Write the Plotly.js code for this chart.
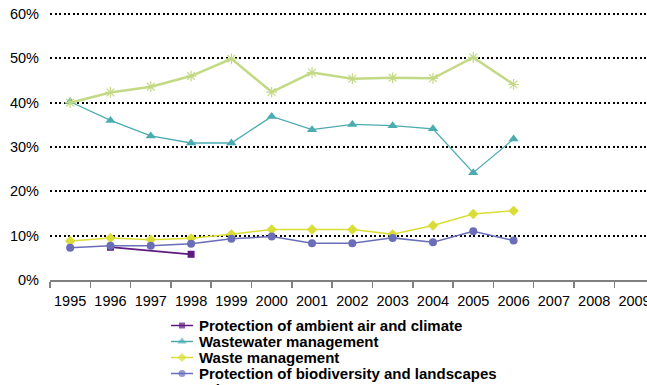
<!DOCTYPE html>
<html>
<head>
<meta charset="utf-8">
<script src="https://cdn.plot.ly/plotly-3.0.1.min.js"></script>
<style>html,body{margin:0;padding:0;background:#fff;}#chart{width:647px;height:385px;}</style>
</head>
<body>
<div id="chart"></div>
<script>
// ---- data ----
const years = ["1995","1996","1997","1998","1999","2000","2001","2002","2003","2004","2005","2006","2007","2008","2009"];
const seriesNames = ["Protection of ambient air and climate","Wastewater management","Waste management","Protection of biodiversity and landscapes","Other"];
const airClimate   = [null, 7.4, null, 5.8, null, null, null, null, null, null, null, null];
const wastewater   = [40.2, 36.0, 32.5, 30.9, 30.9, 36.9, 33.9, 35.1, 34.8, 34.1, 24.2, 31.8];
const waste        = [8.8, 9.5, 9.1, 9.4, 10.3, 11.4, 11.4, 11.4, 10.3, 12.3, 14.9, 15.6];
const biodiversity = [7.3, 7.7, 7.7, 8.2, 9.3, 9.8, 8.3, 8.3, 9.5, 8.5, 11.0, 8.9];
const other        = [40.0, 42.3, 43.6, 46.0, 49.9, 42.4, 46.8, 45.4, 45.6, 45.5, 50.2, 44.1];
const yTicks = [0, 10, 20, 30, 40, 50, 60];

// ---- styles ----
const colors  = ["#5E1B7E", "#4BACB0", "#DADD35", "#6A6EB8", "#C3D985"];
const symbols = ["square", "triangle-up", "diamond", "circle", "asterisk-open"];
const msizes  = [7, 9, 8, 8, 9];
const lwidths = [1.8, 1.3, 1.5, 1.5, 2.5];
const values  = [airClimate, wastewater, waste, biodiversity, other];

const W = 647, H = 385;
const plotL = 50, plotT = 14, plotB = 280;
const yMax = 60, yPad = 0.3, pxPerUnit = (plotB - plotT) / yMax;

const traces = [];
// invisible trace so all categories exist
traces.push({x: years, y: years.map(() => null), type: 'scatter', mode: 'lines', showlegend: false, hoverinfo: 'skip'});
values.forEach((vals, i) => {
  traces.push({
    x: years.slice(0, vals.length), y: vals, type: 'scatter', mode: 'lines+markers',
    name: seriesNames[i], connectgaps: true, showlegend: false,
    line: {color: colors[i], width: lwidths[i]},
    marker: {color: colors[i], symbol: symbols[i], size: msizes[i], line: {color: colors[i], width: symbols[i] === 'asterisk-open' ? 1.2 : 0}}
  });
});

// custom legend (pixel coordinate axes)
const LX0 = 171, LX1 = 193, LTX = 197, LY0 = 325.5, LSTEP = 16;
const annotations = [];
seriesNames.forEach((nm, i) => {
  const yy = LY0 + i * LSTEP;
  traces.push({
    x: [LX0, (LX0 + LX1) / 2, LX1], y: [yy, yy, yy], xaxis: 'x2', yaxis: 'y2',
    type: 'scatter', mode: 'lines+markers', showlegend: false, hoverinfo: 'skip', cliponaxis: false,
    line: {color: colors[i], width: 1.5},
    marker: {color: colors[i], symbol: symbols[i], size: [0, msizes[i] - 1, 0], line: {color: colors[i], width: symbols[i] === 'asterisk-open' ? 1.2 : 0}}
  });
  annotations.push({
    xref: 'paper', yref: 'paper', x: LTX / W, y: 1 - yy / H, text: nm, showarrow: false,
    xanchor: 'left', yanchor: 'middle',
    font: {family: 'Liberation Sans, Arial, sans-serif', size: 15, color: '#000', weight: 'bold'}
  });
});

const layout = {
  width: W, height: H,
  margin: {l: 0, r: 0, t: 0, b: 0, pad: 0},
  paper_bgcolor: '#fff', plot_bgcolor: 'rgba(0,0,0,0)',
  showlegend: false,
  font: {family: 'Liberation Sans, Arial, sans-serif', size: 15, color: '#000'},
  xaxis: {
    type: 'category', categoryorder: 'array', categoryarray: years,
    domain: [plotL / W, 1], range: [-0.5, 14.31],
    tickson: 'boundaries', ticks: 'outside', ticklen: 6, tickwidth: 1.5, tickcolor: '#808080',
    showline: true, linecolor: '#808080', linewidth: 1.5,
    showgrid: false, zeroline: false, ticklabelstandoff: 7, tickangle: 0,
    tickfont: {size: 14.5, color: '#000'}, anchor: 'y'
  },
  yaxis: {
    domain: [(H - plotB) / H, (H - plotT + yPad * pxPerUnit) / H], range: [0, yMax + yPad],
    tickvals: yTicks, ticktext: yTicks.map(v => v + '%'),
    showgrid: true, gridcolor: '#000', gridwidth: 2, griddash: '2px,2.5px',
    zeroline: false, showline: false, ticks: '', ticklabelstandoff: 10,
    tickfont: {size: 14.5, color: '#000'}, anchor: 'x'
  },
  xaxis2: {domain: [0, 1], range: [0, W], visible: false, fixedrange: true, anchor: 'y2'},
  yaxis2: {domain: [0, 1], range: [H, 0], visible: false, fixedrange: true, anchor: 'x2'},
  annotations: annotations
};

Plotly.newPlot('chart', traces, layout, {staticPlot: true, displayModeBar: false});
</script>
</body>
</html>
